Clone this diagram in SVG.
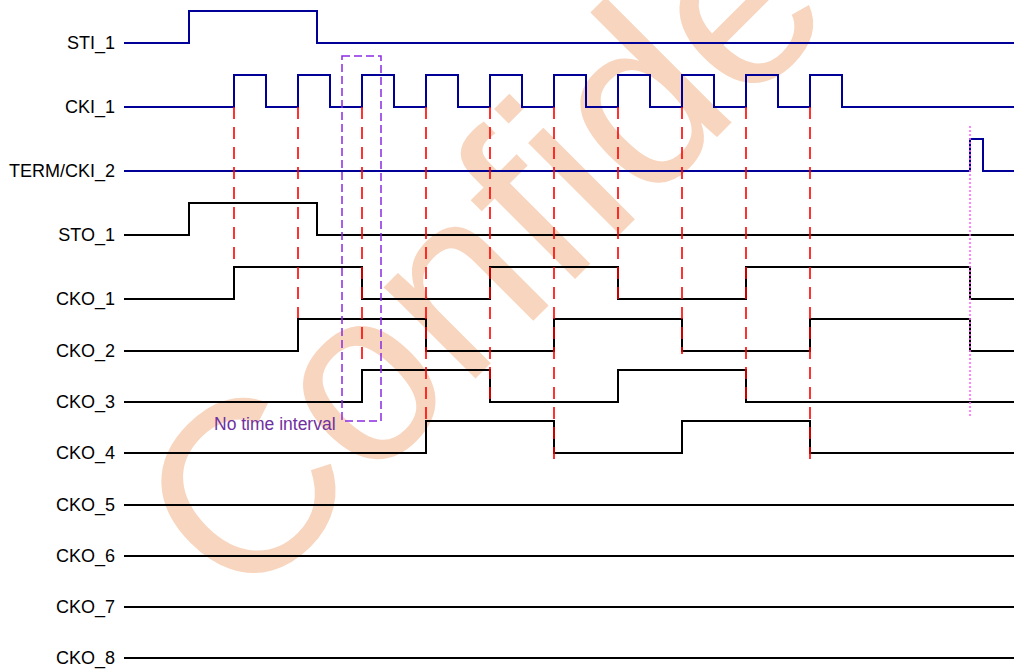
<svg xmlns="http://www.w3.org/2000/svg" width="1014" height="669" viewBox="0 0 1014 669">
  <style>
    .lbl { font-family: "Liberation Sans", Arial, sans-serif; font-size: 18px; fill: #000; text-anchor: end; }
    .wave-in { fill: none; stroke: #000099; stroke-width: 2; }
    .wave-out { fill: none; stroke: #000; stroke-width: 2; }
    .guide { stroke: #FF0000; stroke-width: 1.6; stroke-dasharray: 12 8; fill: none; }
    .box { fill: none; stroke: #8A2BE2; stroke-width: 1.5; stroke-dasharray: 8 4; }
    .marker { stroke: #FF66FF; stroke-width: 1.6; stroke-dasharray: 2 2; }
    .note { font-family: "Liberation Sans", Arial, sans-serif; font-size: 17.5px; fill: #7030A0; }
    .wm { font-family: "Liberation Sans", Arial, sans-serif; font-size: 245px; fill: #F8D5BE; }
  </style>
  <rect width="1014" height="669" fill="#fff"/>
  <g id="watermark">
    <text class="wm" transform="translate(242,612) rotate(-45)">Confide</text>
  </g>
  <g id="STI_1"><text class="lbl" x="115" y="49">STI_1</text><path class="wave-in" d="M124,43 H189 V11 H317 V43 H1014"/></g>
  <g id="CKI_1"><text class="lbl" x="115" y="113">CKI_1</text><path class="wave-in" d="M124,107 H234 V75 H266 V107 H298 V75 H330 V107 H362 V75 H394 V107 H426 V75 H458 V107 H490 V75 H522 V107 H554 V75 H586 V107 H618 V75 H650 V107 H682 V75 H714 V107 H746 V75 H778 V107 H810 V75 H842 V107 H1014"/></g>
  <g id="TERM_CKI_2"><text class="lbl" x="115" y="177">TERM/CKI_2</text><path class="wave-in" d="M124,171 H970 V139 H983 V171 H1014"/></g>
  <g id="STO_1"><text class="lbl" x="115" y="241">STO_1</text><path class="wave-out" d="M124,235 H189 V203 H317 V235 H1014"/></g>
  <g id="CKO_1"><text class="lbl" x="115" y="305">CKO_1</text><path class="wave-out" d="M124,299 H234 V267 H362 V299 H490 V267 H618 V299 H746 V267 H970 V299 H1014"/></g>
  <g id="CKO_2"><text class="lbl" x="115" y="357">CKO_2</text><path class="wave-out" d="M124,351 H298 V319 H426 V351 H554 V319 H682 V351 H810 V319 H970 V351 H1014"/></g>
  <g id="CKO_3"><text class="lbl" x="115" y="408">CKO_3</text><path class="wave-out" d="M124,402 H362 V370 H490 V402 H618 V370 H746 V402 H1014"/></g>
  <g id="CKO_4"><text class="lbl" x="115" y="459">CKO_4</text><path class="wave-out" d="M124,453 H426 V421 H554 V453 H682 V421 H810 V453 H1014"/></g>
  <g id="CKO_5"><text class="lbl" x="115" y="511">CKO_5</text><path class="wave-out" d="M124,505 H1014"/></g>
  <g id="CKO_6"><text class="lbl" x="115" y="562">CKO_6</text><path class="wave-out" d="M124,556 H1014"/></g>
  <g id="CKO_7"><text class="lbl" x="115" y="613">CKO_7</text><path class="wave-out" d="M124,607 H1014"/></g>
  <g id="CKO_8"><text class="lbl" x="115" y="664">CKO_8</text><path class="wave-out" d="M124,658 H1014"/></g>
  <g id="connectors">
    <path class="guide" d="M234,107 V267 M298,107 V318 M362,107 V364 M426,107 V421 M490,107 V405 M554,107 V460 M618,107 V302 M682,107 V354 M746,107 V405 M810,107 V460"/>
    <line class="marker" x1="970" y1="126" x2="970" y2="418"/>
  </g>
  <g id="no_time_interval">
    <rect class="box" x="342" y="56" width="39" height="365"/>
    <text class="note" x="214" y="430">No time interval</text>
  </g>
</svg>
